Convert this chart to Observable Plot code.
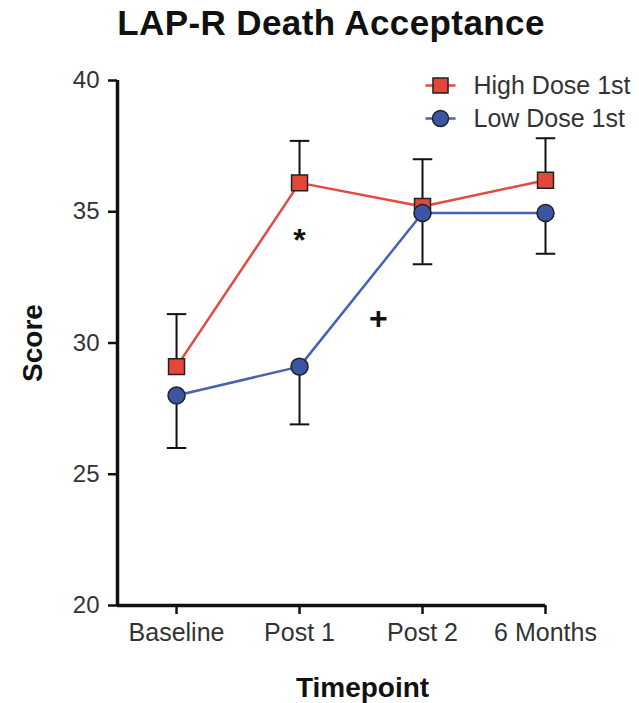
<!DOCTYPE html>
<html>
<head>
<meta charset="utf-8">
<script src="https://cdn.jsdelivr.net/npm/d3@7"></script>
<script src="https://cdn.jsdelivr.net/npm/@observablehq/plot@0.6"></script>
<style>
  html, body { margin: 0; padding: 0; background: #fff; }
  #title { height: 50px; line-height: 46px; font-family: "Liberation Sans", Arial, sans-serif; font-weight: bold; font-size: 35px; letter-spacing: 0.4px; color: #111; text-align: center; padding-left: 23px; box-sizing: border-box; width: 639px; white-space: nowrap; }
</style>
</head>
<body>
<div id="title">LAP-R Death Acceptance</div>
<div id="chart"></div>
<script>
const categories = ["Baseline", "Post 1", "Post 2", "6 Months"];
const highMean = [29.1, 36.1, 35.2, 36.2];
const highUpper = [31.1, 37.7, 37.0, 37.8];
const lowMean = [28.0, 29.1, 34.95, 34.95];
const lowLower = [26.0, 26.9, 33.0, 33.4];
const yTicks = [20, 25, 30, 35, 40];
const seriesNames = ["High Dose 1st", "Low Dose 1st"];
const annotations = [
  {label: "*", pos: 1, score: 34.0},
  {label: "+", pos: 1.64, score: 31.05}
];

const xStart = -0.48;
const red = "#e5463b", redLine = "#e4493f";
const blue = "#3c54a4", blueLine = "#4862b3";

const high = categories.map((c, i) => ({i, c, mean: highMean[i], err: highUpper[i]}));
const low = categories.map((c, i) => ({i, c, mean: lowMean[i], err: lowLower[i]}));

const hLine = {
  draw(ctx, size) { const w = Math.sqrt(size) / 2; ctx.moveTo(-w, 0); ctx.lineTo(w, 0); }
};

const chart = Plot.plot({
  width: 639,
  height: 653,
  marginTop: 30,
  marginBottom: 98,
  marginLeft: 117,
  marginRight: 94,
  style: {fontFamily: "Liberation Sans, Arial, sans-serif", background: "#fff"},
  x: {domain: [xStart, categories.length - 1], axis: null},
  y: {domain: [yTicks[0], yTicks[yTicks.length - 1]], axis: null},
  marks: [
    Plot.axisY({ticks: yTicks, tickSize: 9, tickPadding: 9, fontSize: 24, stroke: "#111", strokeWidth: 2.5, fill: "#333", label: null}),
    Plot.axisX({ticks: d3.range(categories.length), tickFormat: i => categories[i], tickSize: 9, tickPadding: 9, fontSize: 25, stroke: "#111", strokeWidth: 2.5, fill: "#333", label: null}),
    Plot.ruleX([xStart], {y1: yTicks[0], y2: yTicks[yTicks.length - 1], stroke: "#111", strokeWidth: 3.5}),
    Plot.ruleY([yTicks[0]], {x1: xStart, x2: categories.length - 1, stroke: "#111", strokeWidth: 3.5}),
    // error bars
    Plot.ruleX(high, {x: "i", y1: "mean", y2: "err", stroke: "#111", strokeWidth: 2}),
    Plot.ruleX(low, {x: "i", y1: "mean", y2: "err", stroke: "#111", strokeWidth: 2}),
    Plot.dot(high, {x: "i", y: "err", symbol: hLine, r: 11, stroke: "#111", strokeWidth: 2}),
    Plot.dot(low, {x: "i", y: "err", symbol: hLine, r: 11, stroke: "#111", strokeWidth: 2}),
    // lines
    Plot.line(high, {x: "i", y: "mean", stroke: redLine, strokeWidth: 2.5}),
    Plot.line(low, {x: "i", y: "mean", stroke: blueLine, strokeWidth: 2.5}),
    Plot.dot(high, {x: "i", y: "mean", symbol: "square", r: 9, fill: red, stroke: "#222", strokeWidth: 1.5}),
    Plot.dot(low, {x: "i", y: "mean", symbol: "circle", r: 8.5, fill: blue, stroke: "#222", strokeWidth: 1.5}),
    // annotations
    Plot.text(annotations, {x: "pos", y: "score", text: "label", fontSize: 32, fontWeight: "bold", fill: "#111", dy: 3}),
    // axis labels
    Plot.text(["Score"], {frameAnchor: "left", textAnchor: "middle", lineAnchor: "middle", dx: -84, rotate: -90, fontSize: 28, fontWeight: "bold", fill: "#111"}),
    Plot.text(["Timepoint"], {frameAnchor: "bottom", textAnchor: "middle", lineAnchor: "middle", dx: 31, dy: 83, fontSize: 28, fontWeight: "bold", fill: "#111"}),
    // legend
    Plot.dot([0], {frameAnchor: "top-left", dx: 323, dy: 5, symbol: hLine, r: 17, stroke: redLine, strokeWidth: 2.5}),
    Plot.dot([0], {frameAnchor: "top-left", dx: 323, dy: 5, symbol: "square", r: 8.5, fill: red, stroke: "#222", strokeWidth: 1.5}),
    Plot.dot([0], {frameAnchor: "top-left", dx: 323, dy: 38, symbol: hLine, r: 17, stroke: blueLine, strokeWidth: 2.5}),
    Plot.dot([0], {frameAnchor: "top-left", dx: 323, dy: 38, symbol: "circle", r: 8, fill: blue, stroke: "#222", strokeWidth: 1.5}),
    Plot.text([seriesNames[0]], {frameAnchor: "top-left", dx: 356, dy: 5, textAnchor: "start", lineAnchor: "middle", fontSize: 25, fill: "#333"}),
    Plot.text([seriesNames[1]], {frameAnchor: "top-left", dx: 356, dy: 38, textAnchor: "start", lineAnchor: "middle", fontSize: 25, fill: "#333"})
  ]
});
document.getElementById("chart").appendChild(chart);
</script>
</body>
</html>
